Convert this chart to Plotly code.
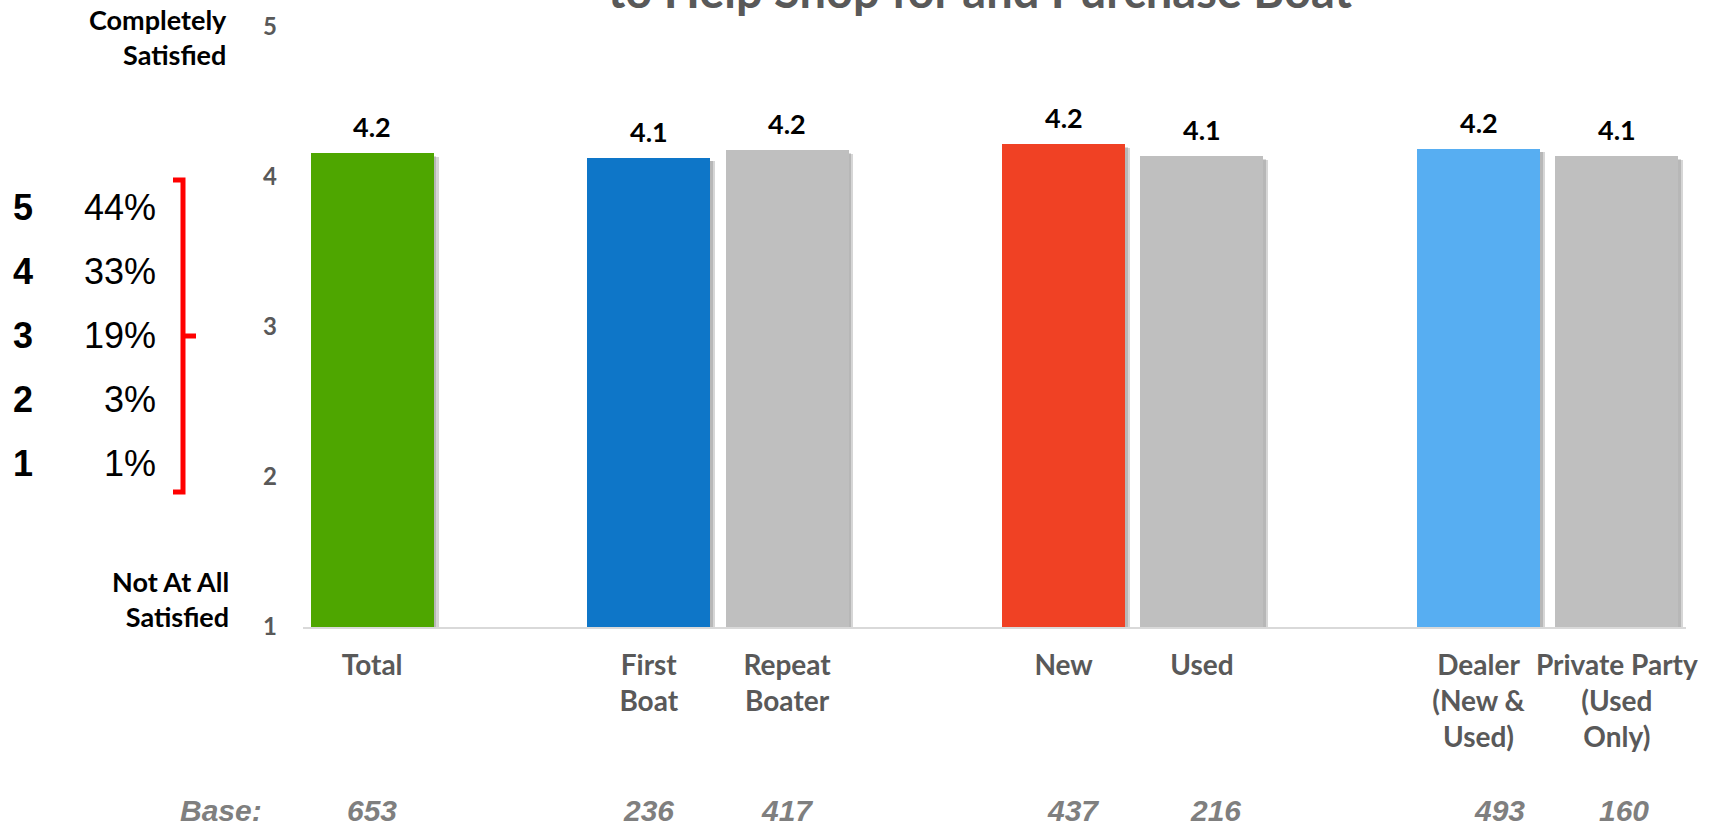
import plotly.graph_objects as go

# ---- data -------------------------------------------------------------
categories = ["Total", "First<br>Boat", "Repeat<br>Boater", "New", "Used",
              "Dealer<br>(New &<br>Used)", "Private Party<br>(Used<br>Only)"]
# categories are shown in groups, separated by an empty slot
group_sizes = [1, 2, 2, 2]
scores = [4.16, 4.13, 4.18, 4.22, 4.14, 4.19, 4.14]
bases = [653, 236, 417, 437, 216, 493, 160]
bar_colors = ["#4EA600", "#0E76C8", "#BFBFBF", "#F04124", "#BFBFBF", "#57AEF2", "#BFBFBF"]

rating_levels = ["5", "4", "3", "2", "1"]
rating_shares = ["44%", "33%", "19%", "3%", "1%"]
y_ticks = [1, 2, 3, 4, 5]

title_text = "to Help Shop for and Purchase Boat"

# ---- layout constants -------------------------------------------------
W, H = 1709, 826
ML, MR, MT, MB = 303, 23, 27, 199
PW, PH = W - ML - MR, H - MT - MB

SANS = "Lato"
ARIAL = "Liberation Sans, Arial"
DARK_GREY = "#595959"
BASE_GREY = "#7F7F7F"


def px(x):
    return (x - ML) / PW


def py(y):
    return (H - MB - y) / PH


# slot positions: each group is followed by one empty slot
slots = []
pos = 0
for n in group_sizes:
    for _ in range(n):
        slots.append(pos)
        pos += 1
    pos += 1

bar_w = 0.89

fig = go.Figure()

# soft drop shadow behind each bar
fig.add_trace(go.Bar(
    x=slots, y=[s - 0.025 for s in scores], width=bar_w, offset=-bar_w / 2 + 0.035,
    marker=dict(color="rgba(0,0,0,0.16)", line=dict(width=0)),
    hoverinfo="skip", showlegend=False,
))
fig.add_trace(go.Bar(
    x=slots, y=[s - 0.02 for s in scores], width=bar_w, offset=-bar_w / 2 + 0.02,
    marker=dict(color="rgba(0,0,0,0.14)", line=dict(width=0)),
    hoverinfo="skip", showlegend=False,
))
# main bars
fig.add_trace(go.Bar(
    x=slots, y=scores, width=bar_w,
    marker=dict(color=bar_colors, line=dict(width=0)),
    showlegend=False,
))

annotations = []

# value labels above bars
for x, s in zip(slots, scores):
    annotations.append(dict(
        x=x, y=s, xref="x", yref="y", text=f"{s:.1f}", showarrow=False,
        yanchor="bottom", yshift=8,
        font=dict(family=SANS, size=27, color="black", weight="bold"),
    ))

# base sizes row
annotations.append(dict(
    x=px(264), y=py(810), xref="paper", yref="paper", text="<b><i>Base:</i></b>",
    showarrow=False, xanchor="right", yanchor="middle",
    font=dict(family=ARIAL, size=30, color=BASE_GREY),
))
base_shift = [0, 0, 0, 0.07, 0.1, 0.15, 0.05]
for x, n, d in zip(slots, bases, base_shift):
    annotations.append(dict(
        x=x + d, y=py(810), xref="x", yref="paper", text=f"<b><i>{n}</i></b>",
        showarrow=False, xanchor="center", yanchor="middle",
        font=dict(family=ARIAL, size=30, color=BASE_GREY),
    ))

# scale end labels
annotations.append(dict(
    x=px(229), y=py(37), xref="paper", yref="paper", text="Completely<br>Satisfied",
    showarrow=False, xanchor="right", yanchor="middle", align="right",
    font=dict(family=SANS, size=27, color="black", weight="bold"),
))
annotations.append(dict(
    x=px(231), y=py(599), xref="paper", yref="paper", text="Not At All<br>Satisfied",
    showarrow=False, xanchor="right", yanchor="middle", align="right",
    font=dict(family=SANS, size=27, color="black", weight="bold"),
))

# rating distribution
row_y = [207, 271, 335, 400, 463]
for lvl, share, ry in zip(rating_levels, rating_shares, row_y):
    annotations.append(dict(
        x=px(23), y=py(ry), xref="paper", yref="paper", text=f"<b>{lvl}</b>",
        showarrow=False, xanchor="center", yanchor="middle",
        font=dict(family=ARIAL, size=36, color="black"),
    ))
    annotations.append(dict(
        x=px(158), y=py(ry), xref="paper", yref="paper", text=share,
        showarrow=False, xanchor="right", yanchor="middle",
        font=dict(family=ARIAL, size=36, color="black"),
    ))

# title (second line, running off the top edge)
annotations.append(dict(
    x=px(980), y=py(20), xref="paper", yref="paper", text=title_text,
    showarrow=False, xanchor="center", yanchor="bottom",
    font=dict(family=SANS, size=47, color=DARK_GREY, weight="bold"),
))

# red bracket grouping the distribution
bracket = (
    f"M {px(173)},{py(180)} L {px(183)},{py(180)} L {px(183)},{py(492)} L {px(173)},{py(492)} "
    f"M {px(183)},{py(336)} L {px(196)},{py(336)}"
)
shapes = [dict(type="path", path=bracket, xref="paper", yref="paper",
               line=dict(color="#FF0000", width=5))]

fig.update_layout(
    width=W, height=H,
    margin=dict(l=ML, r=MR, t=MT, b=MB),
    paper_bgcolor="white", plot_bgcolor="white",
    barmode="overlay", bargap=0,
    annotations=annotations, shapes=shapes,
    showlegend=False,
    xaxis=dict(
        range=[-0.5, 9.5], tickvals=slots, ticktext=categories,
        showgrid=False, zeroline=False, showline=True,
        linecolor="#D9D9D9", linewidth=2, ticks="",
        tickfont=dict(family=SANS, size=28, color=DARK_GREY, weight="bold"),
        ticklabelstandoff=12, fixedrange=True,
    ),
    yaxis=dict(
        range=[1, 5], tickvals=y_ticks, showgrid=False, zeroline=False,
        showline=False, ticks="",
        tickfont=dict(family=SANS, size=24, color=DARK_GREY, weight="bold"),
        ticklabelstandoff=25, fixedrange=True,
    ),
)

fig.write_html("out.html", config={"displayModeBar": False})
